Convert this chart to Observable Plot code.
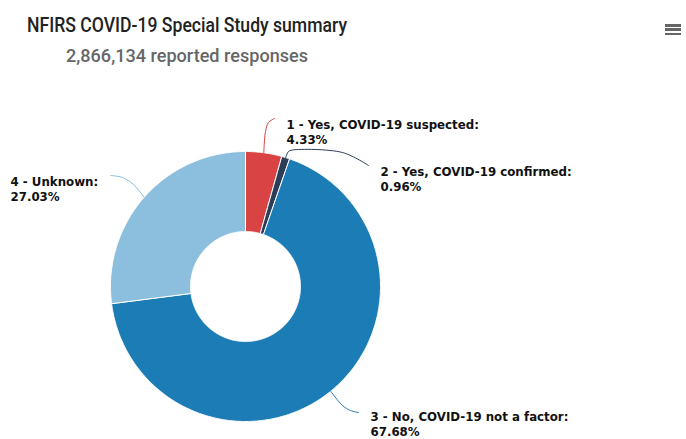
<!DOCTYPE html>
<html>
<head>
<meta charset="utf-8">
<script src="https://cdn.jsdelivr.net/npm/d3@7"></script>
<script src="https://cdn.jsdelivr.net/npm/@observablehq/plot@0.6"></script>
<style>
  html, body { margin: 0; padding: 0; background: #fff; }
  body { width: 686px; height: 439px; overflow: hidden; position: relative; }
  .ttl { position: absolute; white-space: nowrap; line-height: 1; transform-origin: 0 0;
         font-family: "Roboto", "Liberation Sans", sans-serif; font-weight: 500; }
  #title { left: 27px; top: 15px; font-size: 20px; color: #222; }
  #subtitle { left: 66px; top: 46px; font-size: 19px; color: #666; }
  #menu { position: absolute; left: 665px; top: 24px; width: 16px; }
  #menu span { display: block; height: 2.5px; background: #666; margin-bottom: 1.9px; }
  #chart { position: absolute; left: 0; top: 80px; }
</style>
</head>
<body>
<div id="title" class="ttl">NFIRS COVID-19 Special Study summary</div>
<div id="subtitle" class="ttl">2,866,134 reported responses</div>
<div id="menu"><span></span><span></span><span></span></div>
<div id="chart"></div>
<script>
// ---- data ----
const categories = [
  "1 - Yes, COVID-19 suspected",
  "2 - Yes, COVID-19 confirmed",
  "3 - No, COVID-19 not a factor",
  "4 - Unknown"
];
const percentages = [4.33, 0.96, 67.68, 27.03];
const sliceColors = ["#d94343", "#2b3d57", "#1b7cb6", "#8cbfdd"];

// ---- layout ----
const W = 686, H = 359, TOP = 80;        // svg size and page offset
const CX = 245, CY = 286, S = 135;        // donut centre (page px) and outer radius
const INNER = 55 / 135;                   // inner radius relative to outer
// connector waypoints after the slice edge (page px), last point = label anchor
const connectorWaypoints = [
  [[265, 131], [268, 122], [274, 118]],
  [[288, 151], [292, 149.5], [342, 152], [368, 165]],
  [[342, 405], [350, 410], [358, 412]],
  [[133, 184], [122, 177], [110, 175]]
];
const labelDx = [12, 12, 12, -100];
const labelDy = [0, 0, -2, 0];

const ux = px => (px - CX) / S;
const uy = py => (CY - py) / S;

// pie angles (clockwise from 12 o'clock)
const pie = d3.pie().sort(null).value(d => d.value)
  .startAngle(0).endAngle(2 * Math.PI);
const slices = pie(categories.map((c, i) => ({cat: c, value: percentages[i]})));

// slice outlines
const arcPoints = [];
slices.forEach(s => {
  const cat = s.data.cat;
  const n = Math.max(2, Math.ceil((s.endAngle - s.startAngle) / (Math.PI / 360)));
  const ring = [];
  for (let k = 0; k <= n; k++) {
    const a = s.startAngle + (s.endAngle - s.startAngle) * k / n;
    ring.push({cat, x: Math.sin(a), y: Math.cos(a)});
  }
  for (let k = n; k >= 0; k--) {
    const a = s.startAngle + (s.endAngle - s.startAngle) * k / n;
    ring.push({cat, x: INNER * Math.sin(a), y: INNER * Math.cos(a)});
  }
  ring.push({...ring[0]});
  arcPoints.push(...ring);
});

// connectors and labels
const connectorPoints = [];
const labels = [];
slices.forEach((s, i) => {
  const cat = s.data.cat;
  const mid = (s.startAngle + s.endAngle) / 2;
  connectorPoints.push({cat, x: Math.sin(mid), y: Math.cos(mid)});
  connectorWaypoints[i].forEach(([px, py]) => connectorPoints.push({cat, x: ux(px), y: uy(py)}));
  const end = connectorWaypoints[i][connectorWaypoints[i].length - 1];
  labels.push({cat, x: ux(end[0]), y: uy(end[1]), dx: labelDx[i], dy: labelDy[i],
               text: `${cat}:\n${s.data.value.toFixed(2)}%`});
});

const chart = Plot.plot({
  width: W,
  height: H,
  margin: 0,
  x: {domain: [ux(0), ux(W)], axis: null},
  y: {domain: [uy(TOP + H), uy(TOP)], axis: null},
  color: {domain: categories, range: sliceColors},
  style: {background: "#fff", overflow: "visible"},
  marks: [
    Plot.line(arcPoints, {x: "x", y: "y", z: "cat", fill: "cat", stroke: "#fff",
      strokeWidth: 1, curve: "linear"}),
    Plot.line(connectorPoints, {x: "x", y: "y", z: "cat", stroke: "cat",
      strokeWidth: 1, curve: "catmull-rom"}),
    ...labels.map(l => Plot.text([l], {x: "x", y: "y", text: "text", dx: l.dx, dy: l.dy,
      textAnchor: "start", lineAnchor: "top", lineHeight: 1.25,
      fontSize: 11.8, fontWeight: "bold", fill: "#111",
      fontFamily: "'DejaVu Sans', Verdana, sans-serif"}))
  ]
});
document.getElementById("chart").appendChild(chart);

// fit condensed title widths
function fit(id, target) {
  const el = document.getElementById(id);
  const w = el.getBoundingClientRect().width;
  if (w > 0) el.style.transform = `scaleX(${target / w})`;
}
fit("title", 320);
fit("subtitle", 242);
</script>
</body>
</html>
